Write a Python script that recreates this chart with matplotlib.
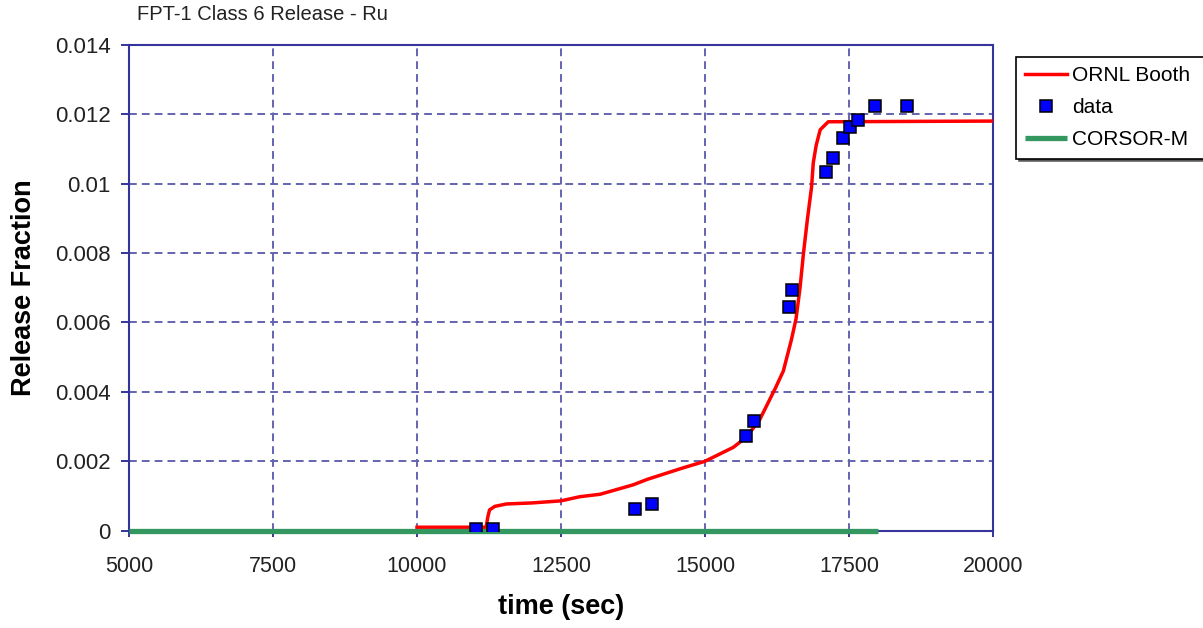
import matplotlib
matplotlib.use("Agg")
import matplotlib.pyplot as plt
from matplotlib.ticker import FixedLocator

plt.rcParams["font.family"] = ["Liberation Sans", "DejaVu Sans"]

# ORNL Booth model curve (time in s, release fraction)
booth_time = [10000, 11200, 11230, 11260, 11350, 11550, 12000, 12500, 12830, 13180,
              13750, 14000, 14600, 15000, 15490, 15720, 15950, 16130, 16220, 16360,
              16500, 16580, 16650, 16710, 16780, 16850, 16880, 16930, 17000, 17140, 20000]
booth_frac = [0.0001, 0.0001, 0.0004, 0.0006, 0.0007, 0.00077, 0.0008, 0.00086, 0.00098, 0.00105,
              0.00132, 0.00148, 0.0018, 0.002, 0.0024, 0.0027, 0.0032, 0.0038, 0.0041, 0.0046,
              0.0055, 0.0061, 0.0070, 0.0080, 0.0090, 0.0099, 0.0106, 0.0111, 0.01155, 0.01178, 0.0118]

# measured release data
data_time = [11020, 11320, 13790, 14080, 15710, 15850, 16460, 16505, 17100, 17230,
             17400, 17520, 17650, 17960, 18510]
data_frac = [0.00005, 0.00005, 0.00062, 0.00076, 0.00274, 0.00315, 0.00645, 0.00694, 0.01034, 0.01073,
             0.01132, 0.01162, 0.01183, 0.01222, 0.01222]

# CORSOR-M prediction
corsor_time = [5000, 18000]
corsor_frac = [0.0, 0.0]

x_ticks = [5000, 7500, 10000, 12500, 15000, 17500, 20000]
y_ticks = [0, 0.002, 0.004, 0.006, 0.008, 0.01, 0.012, 0.014]
y_tick_labels = ["0", "0.002", "0.004", "0.006", "0.008", "0.01", "0.012", "0.014"]

W, H = 1203, 628
fig = plt.figure(figsize=(W / 100, H / 100), dpi=100)
ax = fig.add_axes([129 / W, 1 - 530.7 / H, (993 - 129) / W, (530.7 - 44.7) / H])

navy = "#34349c"
grid_c = "#6464b0"

ax.plot(booth_time, booth_frac, color="#ff0000", lw=2.5, zorder=3, label="ORNL Booth")
ax.plot(data_time, data_frac, linestyle="none", marker="s", markersize=8.5,
        markerfacecolor="#0000ff", markeredgecolor="black", markeredgewidth=1.1,
        zorder=5, label="data")
ax.plot(corsor_time, corsor_frac, color="#33975f", lw=3.8, zorder=4, clip_on=False,
        solid_capstyle="butt", label="CORSOR-M")

ax.set_xlim(5000, 20000)
ax.set_ylim(0, 0.014)
ax.xaxis.set_major_locator(FixedLocator(x_ticks))
ax.set_xticklabels([str(v) for v in x_ticks])
ax.yaxis.set_major_locator(FixedLocator(y_ticks))
ax.set_yticklabels(y_tick_labels)

ax.grid(True, color=grid_c, linestyle=(0, (4, 2.6)), lw=1.4, zorder=1)
ax.set_axisbelow(True)
for s in ax.spines.values():
    s.set_color(navy)
    s.set_linewidth(1.5)

ax.tick_params(axis="x", direction="out", length=4.5, width=1.4, color=navy,
               labelsize=15.5, labelcolor="#222222", pad=14)
ax.tick_params(axis="y", direction="out", length=6, width=1.4, color=navy,
               labelsize=16, labelcolor="#222222", pad=7)

ax.set_xlabel("time (sec)", fontsize=19.5, fontweight="bold", labelpad=12)
ax.set_ylabel("Release Fraction", fontsize=19.5, fontweight="bold", labelpad=13)

fig.text(137 / W, 1 - 15 / H, "FPT-1 Class 6 Release - Ru", fontsize=14.5,
         ha="left", va="center", color="#222222")

leg = fig.legend(loc="upper left", bbox_to_anchor=(1016 / W, 0, 0.2, 1 - 57 / H),
                 bbox_transform=fig.transFigure, mode="expand", borderaxespad=0,
                 fontsize=15, numpoints=1, handlelength=2.0, handletextpad=0.25,
                 labelspacing=0.62, borderpad=0.45, frameon=True, fancybox=False,
                 shadow={"color": "#555555", "alpha": 0.9}, framealpha=1)
leg.get_frame().set_edgecolor("black")
leg.get_frame().set_linewidth(1.2)

fig.savefig("out.png", dpi=100)
